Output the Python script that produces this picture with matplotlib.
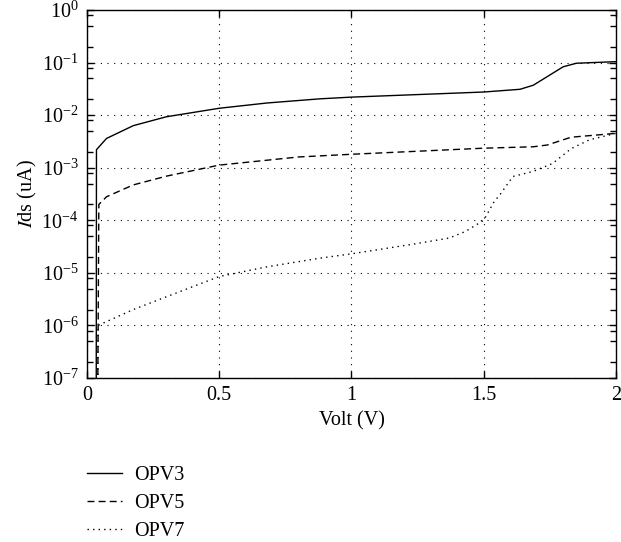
import numpy as np
import matplotlib
matplotlib.use('Agg')
from matplotlib import pyplot as plt
from matplotlib.ticker import FixedLocator, NullFormatter

plt.rcParams['font.family'] = ['Liberation Serif', 'DejaVu Serif']
plt.rcParams['mathtext.fontset'] = 'stix'

# values
v_opv3 = [0.035, 0.036, 0.074, 0.175, 0.3, 0.5, 0.68, 0.88, 1.0, 1.5, 1.637, 1.687, 1.74, 1.80, 1.85, 2.0]
i_opv3 = [1e-8, 2.2e-3, 3.6e-3, 6.3e-3, 9.3e-3, 1.35e-2, 1.7e-2, 2.04e-2, 2.2e-2, 2.75e-2, 3.1e-2, 3.7e-2, 5.4e-2, 8.3e-2, 9.7e-2, 1.04e-1]

v_opv5 = [0.04, 0.045, 0.074, 0.175, 0.3, 0.5, 0.8, 1.0, 1.5, 1.687, 1.74, 1.83, 2.0]
i_opv5 = [1e-8, 2e-4, 2.8e-4, 4.7e-4, 6.9e-4, 1.12e-3, 1.6e-3, 1.8e-3, 2.35e-3, 2.5e-3, 2.7e-3, 3.8e-3, 4.5e-3]

v_opv7 = [0.04, 0.042, 0.175, 0.3, 0.5, 0.68, 0.88, 1.0, 1.246, 1.37, 1.43, 1.5, 1.54, 1.56, 1.61, 1.687, 1.76, 1.83, 1.9, 2.0]
i_opv7 = [1e-8, 1e-6, 2e-6, 3.5e-6, 8.5e-6, 1.3e-5, 1.9e-5, 2.3e-5, 3.6e-5, 4.6e-5, 6.1e-5, 1.0e-4, 2.3e-4, 3e-4, 6.8e-4, 8.5e-4, 1.2e-3, 2.3e-3, 3.4e-3, 4.5e-3]

decades = list(range(-7, 1))
fs = 14.5

fig = plt.figure(figsize=(6.21, 5.42), dpi=100)
ax = fig.add_axes([0.140, 0.3026, 0.852, 0.679])

ax.semilogy(v_opv3, i_opv3, 'k-', lw=1.0, label='OPV3')
ax.semilogy(v_opv5, i_opv5, 'k--', lw=1.0, dashes=(5, 3), label='OPV5')
ax.semilogy(v_opv7, i_opv7, 'k:', lw=1.0, dashes=(1, 3), label='OPV7')

ax.set_xlim(0, 2)
ax.set_ylim(1e-7, 1)
ax.set_xticks([0, 0.5, 1, 1.5, 2])
ax.set_xticklabels(['0', '0.5', '1', '1.5', '2'])
ax.set_yticks([10.0**k for k in decades])
minor = [m * 10.0**k for k in decades[:-1] for m in (2, 5, 8)]
ax.yaxis.set_minor_locator(FixedLocator(minor))
ax.yaxis.set_minor_formatter(NullFormatter())
ax.grid(True, which='major', color='k', linestyle=(0, (1, 5)), lw=0.8)
ax.tick_params(which='both', direction='in', top=True, right=True, labelsize=fs, pad=6)
ax.tick_params(which='major', length=5, width=1.0)
ax.tick_params(which='minor', length=4, width=1.0)
for s in ax.spines.values():
    s.set_linewidth(1.0)

ax.set_xlabel('Volt (V)', fontsize=fs)
ax.set_ylabel(r'$I$ds (uA)', fontsize=fs, labelpad=2)

fig.legend(loc='upper left', bbox_to_anchor=(0.127, 0.155), frameon=False, fontsize=fs,
           handlelength=1.75, handletextpad=0.6, labelspacing=0.45, borderaxespad=0)

fig.savefig('out.png', dpi=100)
